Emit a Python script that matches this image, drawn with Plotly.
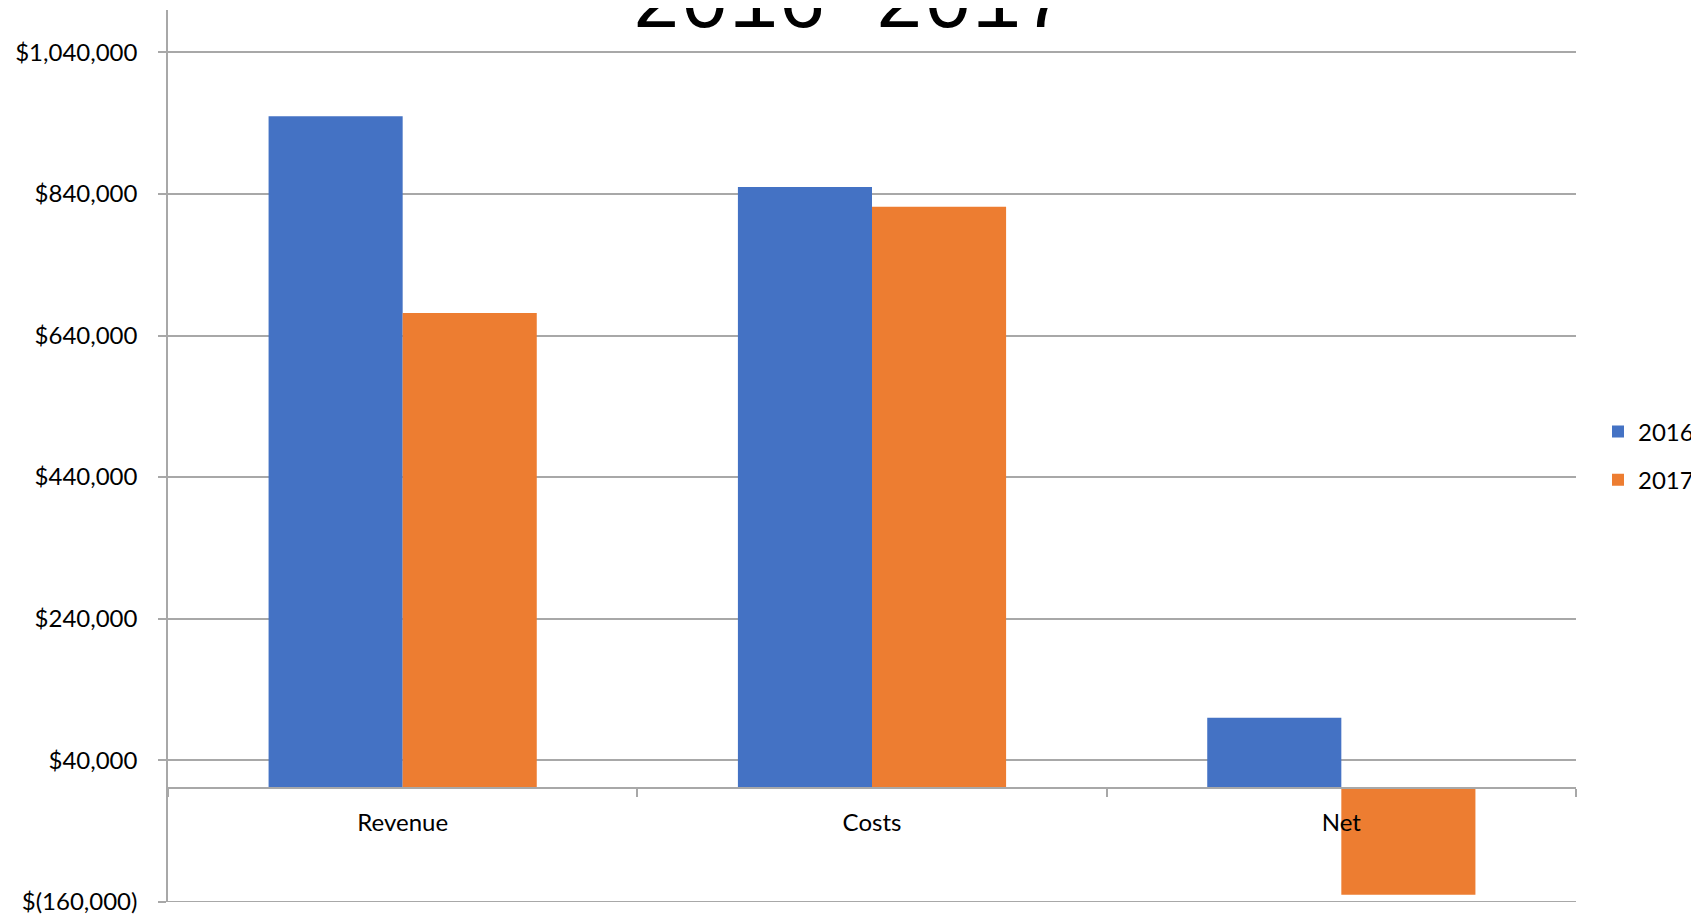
import plotly.graph_objects as go

categories = ["Revenue", "Costs", "Net"]
values_2016 = [950000, 850000, 100000]
values_2017 = [672000, 822000, -150000]
series_names = ["2016", "2017"]
y_tick_values = [-160000, 40000, 240000, 440000, 640000, 840000, 1040000]
y_tick_labels = ["$(160,000)", "$40,000", "$240,000", "$440,000",
                 "$640,000", "$840,000", "$1,040,000"]
title_text = "2016-2017"

# page has an 8px body margin, so the figure is sized/offset to compensate
W, H = 1691, 908
ML, MR, MT, MB = 160, 123, 2, 14
y_min, y_max = -160400, 1100000
GRID = "#A8A8A8"
FONT = "Lato"
PW = W - ML - MR
PH = H - MT - MB

fig = go.Figure()
fig.add_trace(go.Bar(x=categories, y=values_2016, name=series_names[0],
                     marker=dict(color="#4472C4", line=dict(width=0)),
                     legendgroup="g1"))
fig.add_trace(go.Bar(x=categories, y=values_2017, name=series_names[1],
                     marker=dict(color="#ED7D31", line=dict(width=0)),
                     legendgroup="g2"))

fig.update_layout(
    width=W, height=H,
    margin=dict(l=ML, r=MR, t=MT, b=MB, autoexpand=False),
    paper_bgcolor="white", plot_bgcolor="white",
    barmode="group", bargap=0.4286, bargroupgap=0,
    font=dict(family=FONT, size=24, color="black"),
    showlegend=True,
    legend=dict(x=(1598 - 8 - ML) / PW, y=0.5, xanchor="left", yanchor="middle",
                font=dict(family=FONT, size=24, color="black"),
                tracegroupgap=14, bgcolor="rgba(0,0,0,0)"),
    xaxis=dict(type="category", range=[-0.5, 2.5],
               anchor="free", position=(0 - y_min) / (y_max - y_min),
               showline=True, linecolor=GRID, linewidth=1.5,
               ticks="outside", tickson="boundaries", ticklen=8,
               tickcolor=GRID, tickwidth=1.5,
               showgrid=False, zeroline=False,
               tickfont=dict(family=FONT, size=24, color="black"),
               ticklabelstandoff=13),
    yaxis=dict(range=[y_min, y_max], tickmode="array",
               tickvals=y_tick_values, ticktext=y_tick_labels,
               showgrid=True, gridcolor=GRID, gridwidth=1.5,
               showline=True, linecolor=GRID, linewidth=1.5,
               ticks="outside", ticklen=8, tickcolor=GRID, tickwidth=1.5,
               zeroline=False,
               tickfont=dict(family=FONT, size=24, color="black"),
               ticklabelstandoff=16),
    shapes=[dict(type="line", xref="paper", yref="y", x0=0, x1=1,
                 y0=y_tick_values[0], y1=y_tick_values[0],
                 line=dict(color=GRID, width=1.5), layer="below")],
    annotations=[dict(text=title_text, xref="paper", yref="paper",
                      x=(850 - 8 - ML) / PW, y=(H - MB - 45) / PH,
                      xanchor="center", yanchor="bottom", showarrow=False,
                      font=dict(family="Liberation Mono", size=81, color="black"))],
)

fig.write_html("out.html")
